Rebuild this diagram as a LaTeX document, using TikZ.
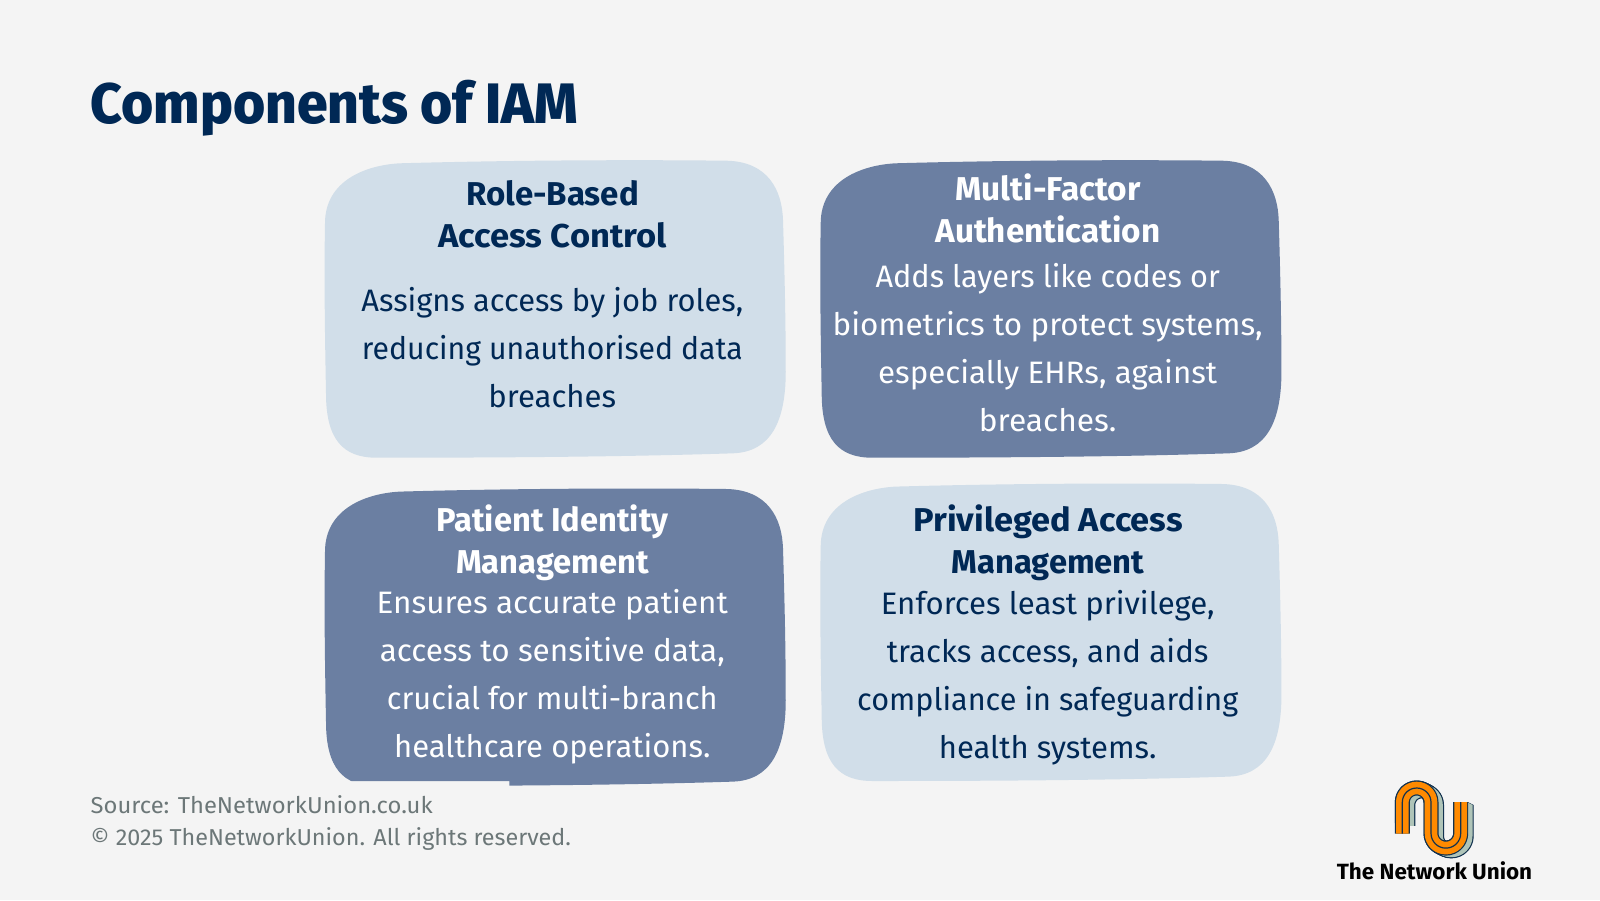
\documentclass[tikz,border=0pt]{standalone}
\usepackage{fontspec}
\usepackage{graphicx}
\setmainfont{Fira Sans}
\newfontfamily\bodylight{Fira Sans}
\newfontfamily\bodyreg{Fira Sans}
\newfontfamily\headbold{Fira Sans Bold}
\newfontfamily\titleheavy{Fira Sans ExtraBold}
\definecolor{pagebg}{HTML}{F4F4F4}
\definecolor{navy}{HTML}{002855}
\definecolor{lightbox}{HTML}{D1DEE9}
\definecolor{darkbox}{HTML}{6B7FA2}
\definecolor{footgrey}{HTML}{6C7778}
\definecolor{logoorange}{HTML}{FF8A00}
\definecolor{logosage}{HTML}{AFC4B8}
\definecolor{logoink}{HTML}{12324F}
\newcommand\fitw[2]{\resizebox{#1pt}{\height}{#2}}
\newcommand\blobpath{(325,223.3) .. controls (325,180) and (366.7,165) .. (400,163.3)
  .. controls (500,160.5) and (620,159.5) .. (726.7,160.7)
  .. controls (768,161.7) and (782,190) .. (783,220)
  .. controls (784.5,270) and (785.7,320) .. (785.7,366.7)
  .. controls (786.7,423) and (770,451.7) .. (733.3,453.3)
  .. controls (620,457) and (490,457.7) .. (376.7,457.7)
  .. controls (343.3,457.7) and (326,440) .. (326,393.3)
  .. controls (325,340) and (324,280) .. (325,223.3) -- cycle}
\newcommand\ribbon{(1402.3,833.5) -- (1402.3,802.3)
  .. controls (1402.3,794.4) and (1408.7,788) .. (1416.65,788)
  .. controls (1424.6,788) and (1431,794.4) .. (1431,802.3)
  -- (1431,833.3)
  .. controls (1431,841.5) and (1437.6,848.1) .. (1445.85,848.1)
  .. controls (1454.1,848.1) and (1460.7,841.5) .. (1460.7,833.3)
  -- (1460.7,802)}
\newcommand\ribbonback{(1402.3,823) -- (1402.3,802.3)
  .. controls (1402.3,794.4) and (1408.7,788) .. (1416.65,788)
  .. controls (1424.6,788) and (1431,794.4) .. (1431,802.3)
  -- (1431,833.3)
  .. controls (1431,841.5) and (1437.6,848.1) .. (1445.85,848.1)
  .. controls (1454.1,848.1) and (1460.7,841.5) .. (1460.7,833.3)
  -- (1460.7,802)}
\tikzset{
  x=1pt,y=-1pt,
  textline/.style={anchor=base,inner sep=0pt,outer sep=0pt,yshift=-0.7pt},
  leftline/.style={anchor=base west,inner sep=0pt,outer sep=0pt,yshift=-0.7pt},
  titlehead/.style={textline,font=\headbold\fontsize{33}{33}\selectfont},
  bodylt/.style={textline,text=navy,font=\bodylight\fontsize{31}{31}\selectfont},
  bodydk/.style={textline,text=white,font=\bodyreg\fontsize{31}{31}\selectfont},
  footline/.style={leftline,text=footgrey,font=\bodyreg\fontsize{23}{23}\selectfont},
}
\begin{document}
\begin{tikzpicture}
\useasboundingbox (0,0) rectangle (1600,900);
\fill[pagebg] (0,0) rectangle (1600,900);

% boxes
\fill[lightbox] \blobpath;
\fill[darkbox,shift={(495.7,0)}] \blobpath;
\begin{scope}
  \clip (0,0) rectangle (509.3,781) (509.3,0) rectangle (1000,900);
  \fill[darkbox,shift={(0,328.3)}] \blobpath;
\end{scope}
\fill[lightbox,shift={(495.7,323.3)}] \blobpath;

% title
\node[leftline,text=navy,font=\titleheavy\fontsize{57}{57}\selectfont] (title) at (90.5,122.7) {\fitw{487.5}{Components of IAM}};

% box 1
\node[titlehead,text=navy] (a1) at (552.5,205) {\fitw{172.7}{Role-Based}};
\node[titlehead,text=navy] (a2) at (552.5,246.7) {\fitw{228.3}{Access Control}};
\node[bodylt] (a3) at (552.3,311) {\fitw{381.7}{Assigns access by job roles,}};
\node[bodylt] (a4) at (552.3,358.3) {\fitw{380.7}{reducing unauthorised data}};
\node[bodylt] (a5) at (552.3,406.7) {\fitw{127.7}{breaches}};

% box 2
\node[titlehead,text=white] (b1) at (1048,200) {\fitw{185}{Multi-Factor}};
\node[titlehead,text=white] (b2) at (1048,241.7) {\fitw{225}{Authentication}};
\node[bodydk] (b3) at (1047.7,286.7) {\fitw{344.3}{Adds layers like codes or}};
\node[bodydk] (b4) at (1047.7,334.7) {\fitw{430}{biometrics to protect systems,}};
\node[bodydk] (b5) at (1047.7,382.3) {\fitw{339}{especially EHRs, against}};
\node[bodydk] (b6) at (1047.7,430.7) {\fitw{137.7}{breaches.}};

% box 3
\node[titlehead,text=white] (c1) at (552.5,530.7) {\fitw{232}{Patient Identity}};
\node[titlehead,text=white] (c2) at (552.5,572.7) {\fitw{192.7}{Management}};
\node[bodydk] (c3) at (552.3,612.7) {\fitw{351.3}{Ensures accurate patient}};
\node[bodydk] (c4) at (552.3,660.7) {\fitw{345}{access to sensitive data,}};
\node[bodydk] (c5) at (552.3,708.7) {\fitw{330.7}{crucial for multi-branch}};
\node[bodydk] (c6) at (552.3,756.7) {\fitw{316.3}{healthcare operations.}};

% box 4
\node[titlehead,text=navy] (d1) at (1048,530.7) {\fitw{269.3}{Privileged Access}};
\node[titlehead,text=navy] (d2) at (1048,572.7) {\fitw{193}{Management}};
\node[bodylt] (d3) at (1047.7,613.3) {\fitw{333.7}{Enforces least privilege,}};
\node[bodylt] (d4) at (1047.7,661.7) {\fitw{321.7}{tracks access, and aids}};
\node[bodylt] (d5) at (1047.7,709.3) {\fitw{381}{compliance in safeguarding}};
\node[bodylt] (d6) at (1047.7,757.3) {\fitw{217.7}{health systems.}};

% footer
\node[footline] (f1) at (90.7,812.7) {\fitw{342}{Source: TheNetworkUnion.co.uk}};
\node[footline] (f2) at (90.7,845) {\fitw{480.3}{© 2025 TheNetworkUnion. All rights reserved.}};

% logo
\begin{scope}[line cap=butt,line join=round]
  \foreach \s in {0,0.5,...,5.5} {
    \draw[logoink,line width=15pt,shift={(\s,0.5*\s)}] \ribbonback;
  }
  \foreach \s in {0,0.5,...,5.5} {
    \draw[logosage,line width=12.6pt,shift={(\s,0.5*\s)}] \ribbonback;
  }
  \draw[logoink,line width=15pt] \ribbon;
  \draw[logoorange,line width=12.6pt] \ribbon;
  \draw[logoink,line width=1.2pt] \ribbon;
\end{scope}
\node[textline,text=black,font=\headbold\fontsize{22}{22}\selectfont] (logotext) at (1434.5,878.3) {\fitw{195.3}{The Network Union}};
\end{tikzpicture}
\end{document}
